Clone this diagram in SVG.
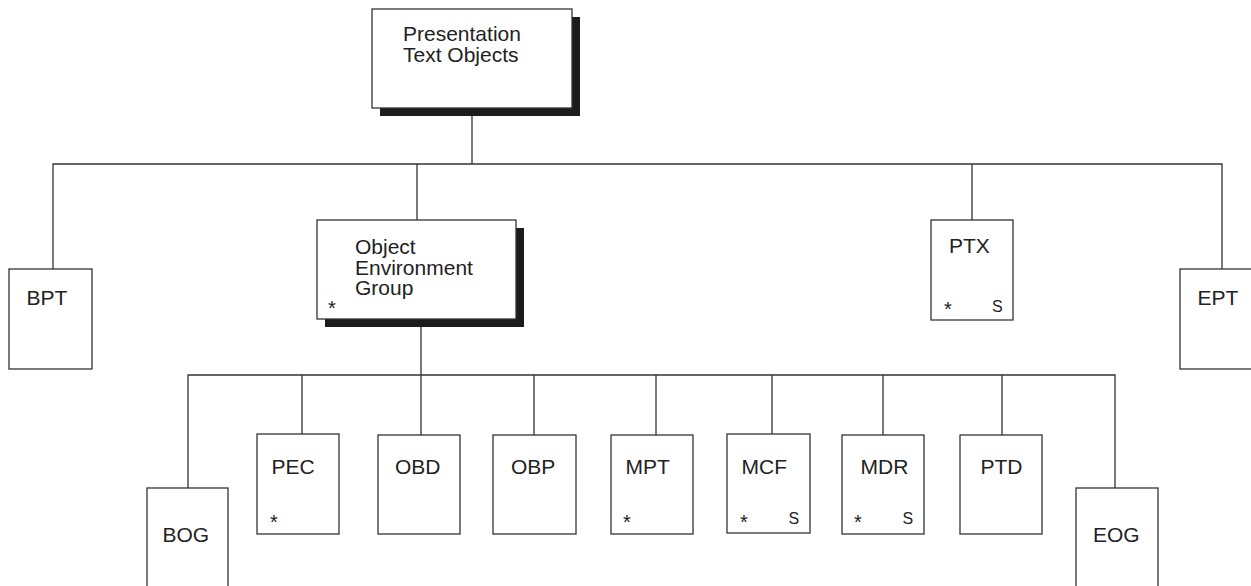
<svg xmlns="http://www.w3.org/2000/svg" width="1251" height="586" viewBox="0 0 1251 586">
<style>
.box{fill:#fff;stroke:#333;stroke-width:1.3}
.shadow{fill:#1c1c1c}
.lbl{font-family:"Liberation Sans",Arial,sans-serif;font-size:21px;fill:#222}
.ast{font-family:"Liberation Sans",Arial,sans-serif;font-size:20px;fill:#222}
.s{font-family:"Liberation Sans",Arial,sans-serif;font-size:16px;fill:#222}
.conn{fill:none;stroke:#333;stroke-width:1.3}
</style>
<rect width="1251" height="586" fill="#fff"/>
<g id="connectors" class="conn">
<path d="M472,116V164M53,269V164H1222V269M417,164V220M972,164V220"/>
<path d="M421,327V375M188,488V375H1115V488M302,375V434M421,375V435M534,375V435M656,375V435M772,375V434M883,375V435M1002,375V435"/>
</g>
<g id="pto">
<rect class="shadow" x="380" y="17" width="200" height="99"/>
<rect class="box" x="372" y="9" width="200" height="99"/>
<text class="lbl" x="403" y="41">Presentation</text>
<text class="lbl" x="403" y="62">Text Objects</text>
</g>
<g id="bpt">
<rect class="box" x="9" y="269" width="83" height="100"/>
<text class="lbl" x="26.5" y="305">BPT</text>
</g>
<g id="oeg">
<rect class="shadow" x="325" y="228" width="199" height="99"/>
<rect class="box" x="317" y="220" width="199" height="99"/>
<text class="lbl" x="355" y="254">Object</text>
<text class="lbl" x="355" y="274.5">Environment</text>
<text class="lbl" x="355" y="295">Group</text>
<text class="ast" x="328" y="315">*</text>
</g>
<g id="ptx">
<rect class="box" x="931" y="220" width="82" height="100"/>
<text class="lbl" x="949" y="253">PTX</text>
<text class="ast" x="944" y="315.5">*</text>
<text class="s" x="992" y="312">S</text>
</g>
<g id="ept">
<rect class="box" x="1180" y="269" width="83" height="100"/>
<text class="lbl" x="1197.5" y="305">EPT</text>
</g>
<g id="bog">
<rect class="box" x="147" y="488" width="81" height="100"/>
<text class="lbl" x="162.5" y="542">BOG</text>
</g>
<g id="pec">
<rect class="box" x="257" y="434" width="82" height="100"/>
<text class="lbl" x="271.5" y="474">PEC</text>
<text class="ast" x="270" y="528.5">*</text>
</g>
<g id="obd">
<rect class="box" x="378" y="435" width="82" height="99"/>
<text class="lbl" x="395" y="474">OBD</text>
</g>
<g id="obp">
<rect class="box" x="493" y="435" width="83" height="99"/>
<text class="lbl" x="511" y="474">OBP</text>
</g>
<g id="mpt">
<rect class="box" x="611" y="435" width="82" height="99"/>
<text class="lbl" x="625.5" y="474">MPT</text>
<text class="ast" x="623" y="528.5">*</text>
</g>
<g id="mcf">
<rect class="box" x="727" y="434" width="83" height="99"/>
<text class="lbl" x="741.5" y="474">MCF</text>
<text class="ast" x="740" y="528.5">*</text>
<text class="s" x="788.5" y="524">S</text>
</g>
<g id="mdr">
<rect class="box" x="842" y="435" width="82" height="99"/>
<text class="lbl" x="860.5" y="474">MDR</text>
<text class="ast" x="854" y="528.5">*</text>
<text class="s" x="902.5" y="524">S</text>
</g>
<g id="ptd">
<rect class="box" x="960" y="435" width="82" height="99"/>
<text class="lbl" x="980.5" y="474">PTD</text>
</g>
<g id="eog">
<rect class="box" x="1076" y="488" width="82" height="100"/>
<text class="lbl" x="1093" y="542">EOG</text>
</g>
</svg>
